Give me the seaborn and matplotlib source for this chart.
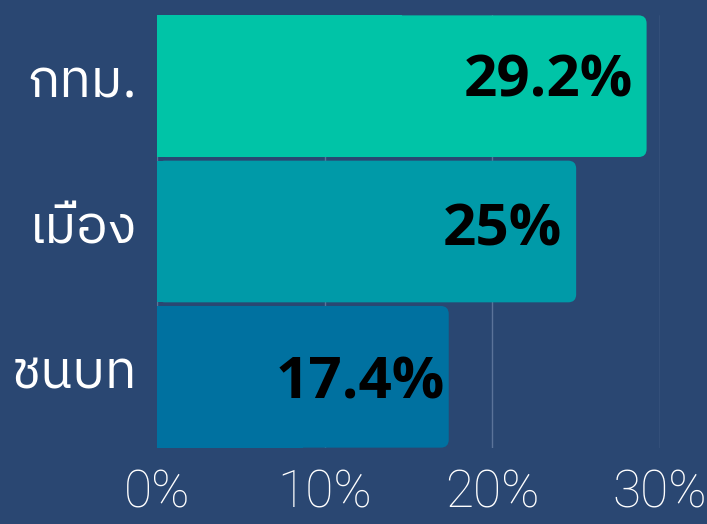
import matplotlib
matplotlib.use("Agg")
import matplotlib.pyplot as plt
from matplotlib import font_manager
from matplotlib.patches import FancyBboxPatch, Rectangle
import matplotlib.transforms as mtransforms
import seaborn as sns
import pandas as pd

# Share by area (percent)
regions = ["กทม.", "เมือง", "ชนบท"]
shares = [29.2, 25.0, 17.4]
value_labels = ["29.2%", "25%", "17.4%"]
bar_colors = ["#00c4a7", "#009aa8", "#0071a0"]
x_ticks = [0, 10, 20, 30]
x_tick_labels = ["0%", "10%", "20%", "30%"]

# Label placement inside each bar, in pixels (right inset, downward shift)
label_inset_px = [14, 14, 4]
label_shift_px = [-4.5, -1.5, 6.5]

BG = "#2a4772"
GRID = "#5b7399"


def find_thai_font():
    """Pick an installed regular-weight font with Thai glyphs, loopless first."""
    try:
        from fontTools.ttLib import TTFont
    except Exception:
        return None
    found = []
    for entry in font_manager.fontManager.ttflist:
        try:
            tt = TTFont(entry.fname, fontNumber=0, lazy=True)
            cmap = tt.getBestCmap() or {}
        except Exception:
            continue
        if 0x0E01 in cmap and 0x0E21 in cmap and 0x0E40 in cmap:
            w = entry.weight if isinstance(entry.weight, int) else 400
            score = 0
            if "loop" in entry.name.lower() and "less" not in entry.name.lower():
                score += 10
            if "sans" not in entry.name.lower():
                score += 3
            score += abs(w - 400) / 100
            if entry.style != "normal":
                score += 5
            found.append((score, entry.name))
    if not found:
        return None
    found.sort()
    return found[0][1]


thai = find_thai_font()
label_family = [thai, "DejaVu Sans"] if thai else ["DejaVu Sans"]

sns.set_theme(style="white")
plt.rcParams["font.family"] = ["DejaVu Sans"]

df = pd.DataFrame({"region": regions, "share": shares})

fig = plt.figure(figsize=(7.07, 5.24), dpi=100, facecolor=BG)
ax = fig.add_axes([157 / 707, 1 - 448 / 524, 503 / 707, 433 / 524])
ax.set_facecolor(BG)

sns.barplot(data=df, x="share", y="region", hue="region",
            palette=bar_colors, saturation=1, legend=False, width=0.975,
            ax=ax, zorder=2)

ax.set_xlim(0, 30)
ax.set_ylim(2.49, -0.49)

# Swap the plain rectangles for bars rounded on their right end
px_x = 503 / 30.0          # pixels per percent
px_y = 433 / 2.98          # pixels per category
radius = 8 / px_x
aspect = px_x / px_y
for patch in list(ax.patches):
    x, y = patch.get_x(), patch.get_y()
    w, h = patch.get_width(), patch.get_height()
    color = patch.get_facecolor()
    patch.remove()
    ax.add_patch(FancyBboxPatch((x, y), w, h,
                                boxstyle=f"round,pad=0,rounding_size={radius}",
                                mutation_aspect=aspect, facecolor=color,
                                edgecolor="none", zorder=2))
    ax.add_patch(Rectangle((x, y), w / 2, h, facecolor=color,
                           edgecolor="none", zorder=2))

for i, (v, lab) in enumerate(zip(shares, value_labels)):
    ax.text(v - label_inset_px[i] / px_x, i + label_shift_px[i] / px_y, lab,
            ha="right", va="center", fontsize=42, fontweight="bold",
            color="black", family=["Open Sans", "DejaVu Sans"], zorder=3)

ax.set_xticks(x_ticks)
ax.set_xticklabels(x_tick_labels)
ax.xaxis.grid(True, color=GRID, linewidth=1.0, zorder=0)
ax.yaxis.grid(False)
ax.set_axisbelow(True)
for s in ax.spines.values():
    s.set_visible(False)
ax.set_xlabel("")
ax.set_ylabel("")
ax.tick_params(axis="x", length=0, pad=15, labelsize=37, labelcolor="white")
ax.tick_params(axis="y", length=0, pad=14, labelsize=38, labelcolor="white")
for t in ax.get_xticklabels():
    t.set_family(["Roboto", "DejaVu Sans"])
    t.set_fontweight("light")
# Category names sit a little above the bar centres
lift = mtransforms.ScaledTranslation(0, 8 / 100, fig.dpi_scale_trans)
for t in ax.get_yticklabels():
    t.set_family(label_family)
    t.set_fontweight("normal")
    t.set_transform(t.get_transform() + lift)

fig.savefig("out.png", dpi=100, facecolor=BG)
